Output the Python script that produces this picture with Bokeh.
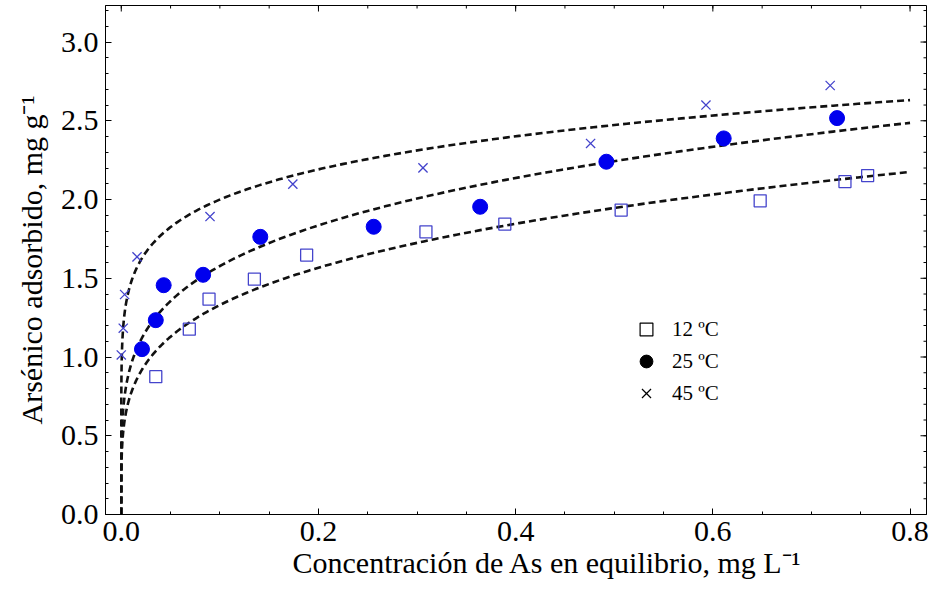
import numpy as np
from bokeh.plotting import figure
from bokeh.models import (Range1d, FixedTicker, Legend, LegendItem,
                          PrintfTickFormatter, Title)
from bokeh.embed import file_html
from bokeh.resources import INLINE

# ---------------- data ----------------
# 12 ºC
c12 = [0.035, 0.069, 0.089, 0.135, 0.188, 0.309, 0.389, 0.507, 0.648, 0.734, 0.757]
q12 = [0.875, 1.177, 1.367, 1.494, 1.647, 1.795, 1.844, 1.933, 1.992, 2.114, 2.152]
# 25 ºC
c25 = [0.021, 0.035, 0.043, 0.083, 0.141, 0.256, 0.364, 0.492, 0.611, 0.726]
q25 = [1.050, 1.234, 1.456, 1.522, 1.763, 1.827, 1.954, 2.240, 2.388, 2.517]
# 45 ºC
c45 = [0.000, 0.002, 0.0034, 0.016, 0.090, 0.174, 0.306, 0.476, 0.593, 0.719]
q45 = [1.013, 1.183, 1.397, 1.636, 1.892, 2.098, 2.201, 2.356, 2.600, 2.724]

# Freundlich fits q = K * C^(1/n), one per temperature (12, 25, 45 ºC)
fit_K = [2.293, 2.611, 2.71]
fit_inv_n = [0.2365, 0.2188, 0.132]
fit_cmax = 0.8

legend_labels = ["12 ºC", "25 ºC", "45 ºC"]
x_ticks = [0.0, 0.2, 0.4, 0.6, 0.8]
y_ticks = [0.0, 0.5, 1.0, 1.5, 2.0, 2.5, 3.0]
x_title = "Concentración de As en equilibrio, mg L\u207b\u00b9"
y_title = "Arsénico adsorbido, mg g\u207b\u00b9"

FONT = "Liberation Serif"
X0, X1 = -0.016, 0.8167
Y0, Y1 = 0.0, 3.232

# ---------------- figure ----------------
p = figure(width=935, height=607, output_backend="svg", toolbar_location=None,
           x_range=Range1d(X0, X1), y_range=Range1d(Y0, Y1),
           min_border_left=105, min_border_right=9, min_border_top=5,
           min_border_bottom=93)
p.xgrid.visible = False
p.ygrid.visible = False
p.outline_line_color = "black"
p.outline_line_width = 1
p.background_fill_color = "white"
p.border_fill_color = "white"

x_minor = [round(0.05 * i, 2) for i in range(0, 17)]
y_minor = [round(0.1 * i, 1) for i in range(0, 33)]


def style_axis(ax):
    ax.axis_line_color = "black"
    ax.axis_line_width = 1
    ax.major_tick_in = 6
    ax.major_tick_out = 0
    ax.minor_tick_in = 3
    ax.minor_tick_out = 0
    ax.major_tick_line_color = "black"
    ax.minor_tick_line_color = "black"
    ax.major_label_text_font = FONT
    ax.major_label_text_font_size = "30px"
    ax.major_label_text_color = "black"
    ax.major_label_standoff = 7
    ax.axis_label_text_font = FONT
    ax.axis_label_text_font_size = "30px"
    ax.axis_label_text_font_style = "normal"
    ax.axis_label_text_color = "black"


xax = p.xaxis[0]
xax.ticker = FixedTicker(ticks=x_ticks, minor_ticks=x_minor)
xax.formatter = PrintfTickFormatter(format="%.1f")
style_axis(xax)

yax = p.yaxis[0]
yax.ticker = FixedTicker(ticks=y_ticks, minor_ticks=y_minor)
yax.formatter = PrintfTickFormatter(format="%.1f")
style_axis(yax)
yax.axis_label = y_title
yax.axis_label_standoff = 10

# x title as a bottom Title so it can sit right of centre, as in the reference
p.add_layout(Title(text=x_title, align="left", offset=187, standoff=0,
                   text_font=FONT, text_font_size="30px",
                   text_font_style="normal", text_color="black"), "below")

# inward frame ticks on the top and right edges (Mathematica-style frame)
p.scatter(x_ticks, [Y1] * len(x_ticks), marker="dash", angle=np.pi / 2,
          size=12, line_color="black", line_width=1)
p.scatter(x_minor, [Y1] * len(x_minor), marker="dash", angle=np.pi / 2,
          size=6, line_color="black", line_width=1)
p.scatter([X1] * len(y_ticks), y_ticks, marker="dash", size=12,
          line_color="black", line_width=1)
p.scatter([X1] * len(y_minor), y_minor, marker="dash", size=6,
          line_color="black", line_width=1)

# ---------------- fitted curves ----------------
cgrid = np.concatenate([[0.0], np.geomspace(1e-9, fit_cmax, 600)])
for K, m in zip(fit_K, fit_inv_n):
    p.line(cgrid, K * cgrid ** m, line_color="#111111", line_width=2.6,
           line_dash="7 4")

# ---------------- data points ----------------
p.scatter(c12, q12, marker="square", size=12, fill_color=None,
          line_color="#4444cc", line_width=1.3)
p.scatter(c25, q25, marker="circle", size=15, fill_color="#0000ee",
          line_color="#0000ee")
p.scatter(c45, q45, marker="x", size=13, line_color="#4444cc", line_width=1.3)

# ---------------- legend (black symbols, as in the reference) ----------------
nan = [float("nan")]
lg1 = p.scatter(nan, nan, marker="square", size=12, fill_color=None,
                line_color="black", line_width=1.2)
lg2 = p.scatter(nan, nan, marker="circle", size=12, fill_color="black",
                line_color="black")
lg3 = p.scatter(nan, nan, marker="x", size=12, line_color="black", line_width=1.2)
legend = Legend(items=[LegendItem(label=legend_labels[0], renderers=[lg1]),
                       LegendItem(label=legend_labels[1], renderers=[lg2]),
                       LegendItem(label=legend_labels[2], renderers=[lg3])],
                location=(525, 105), orientation="vertical")
legend.glyph_width = 32
legend.glyph_height = 32
legend.label_height = 30
legend.label_standoff = 10
legend.spacing = -2
legend.padding = 0
legend.margin = 0
legend.border_line_color = None
legend.background_fill_alpha = 0
legend.label_text_font = FONT
legend.label_text_font_size = "21px"
legend.label_text_color = "black"
legend.label_text_baseline = "middle"
p.add_layout(legend, "center")

open("out.html", "w").write(file_html(p, INLINE))
